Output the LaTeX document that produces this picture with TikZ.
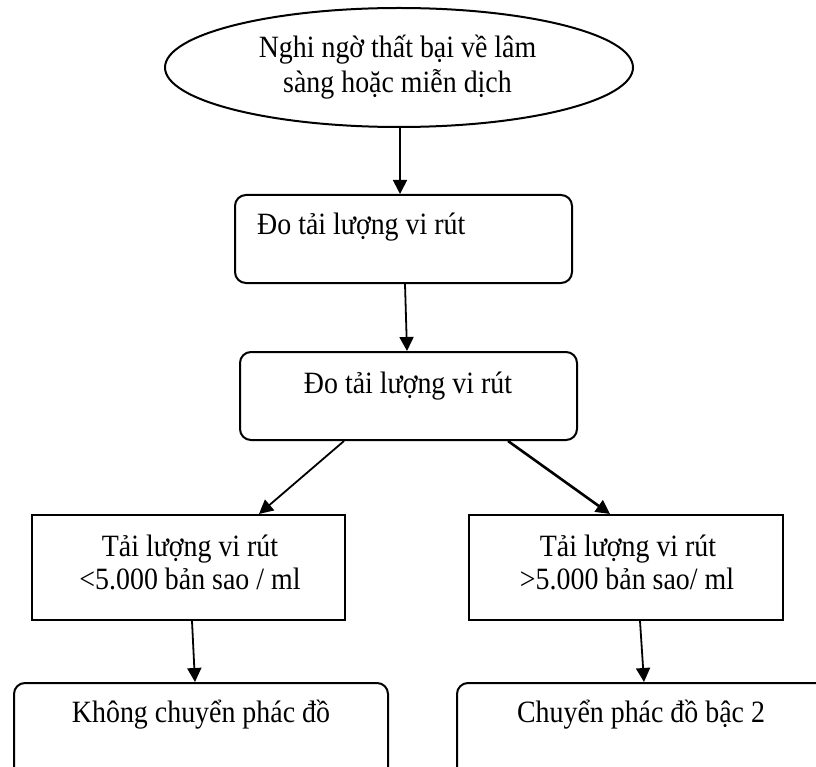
\documentclass[tikz,border=0pt]{standalone}
\usepackage{fontspec}
\setmainfont[FakeStretch=0.9]{Liberation Serif}
\usetikzlibrary{shapes.geometric,arrows.meta}
\tikzset{
  oval/.style={draw, ellipse, line width=2pt, inner sep=0pt},
  rbox/.style={draw, rectangle, rounded corners=11pt, line width=2pt, inner sep=0pt},
  sbox/.style={draw, rectangle, line width=2pt, inner sep=0pt},
  txt/.style={inner sep=0pt, font=\fontsize{31}{35}\selectfont},
  arr/.style={line width=1.8pt, -{Triangle[length=14pt,width=14pt]}},
  thickarr/.style={line width=2.6pt, -{Triangle[length=14pt,width=14pt]}}
}
\begin{document}
\begin{tikzpicture}[x=1pt,y={(0pt,-1pt)}]
\useasboundingbox (0,0) rectangle (816,767);
\fill[white] (0,0) rectangle (816,767);
\clip (0,0) rectangle (816,767);
% shapes
\node[oval, minimum width=468pt, minimum height=119pt] (ell) at (399,67.5) {};
\node[rbox, minimum width=337pt, minimum height=88pt] (b1) at (403.5,239) {};
\node[rbox, minimum width=337pt, minimum height=88pt] (b2) at (408.5,396) {};
\node[sbox, minimum width=313pt, minimum height=105pt] (bl) at (188.5,567.5) {};
\node[sbox, minimum width=314pt, minimum height=105pt] (br) at (626,567.5) {};
\node[rbox, minimum width=374pt, minimum height=117pt] (fl) at (201,741.5) {};
\node[rbox, minimum width=413pt, minimum height=117pt] (fr) at (663.5,741.5) {};
% texts
\node[txt, anchor=base] (t1) at (397.5,58) {Nghi ngờ thất bại về lâm};
\node[txt, anchor=base] (t2) at (397.5,93) {sàng hoặc miễn dịch};
\node[txt, anchor=base west] (t3) at (257,235) {Đo tải lượng vi rút};
\node[txt, anchor=base] (t4) at (408,393) {Đo tải lượng vi rút};
\node[txt, anchor=base] (t5) at (190,556) {Tải lượng vi rút};
\node[txt, anchor=base] (t6) at (190,589) {<5.000 bản sao / ml};
\node[txt, anchor=base] (t7) at (628,556) {Tải lượng vi rút};
\node[txt, anchor=base] (t8) at (627,589) {>5.000 bản sao/ ml};
\node[txt, anchor=base] (t9) at (201,722) {Không chuyển phác đồ};
\node[txt, anchor=base] (t10) at (641,722) {Chuyển phác đồ bậc 2};
% connectors
\draw[arr] ([xshift=1pt]ell.south) -- ([xshift=-3.5pt]b1.north);
\draw[arr] ([xshift=1.5pt]b1.south) -- ([xshift=-1.5pt]b2.north);
\draw[arr] ([xshift=-64.5pt]b2.south) -- ([xshift=70.5pt]bl.north);
\draw[thickarr] ([xshift=99.5pt]b2.south) -- ([xshift=-16pt]br.north);
\draw[arr] ([xshift=3.5pt]bl.south) -- ([xshift=-6pt]fl.north);
\draw[arr] ([xshift=14pt]br.south) -- ([xshift=-19.5pt]fr.north);
\end{tikzpicture}
\end{document}
